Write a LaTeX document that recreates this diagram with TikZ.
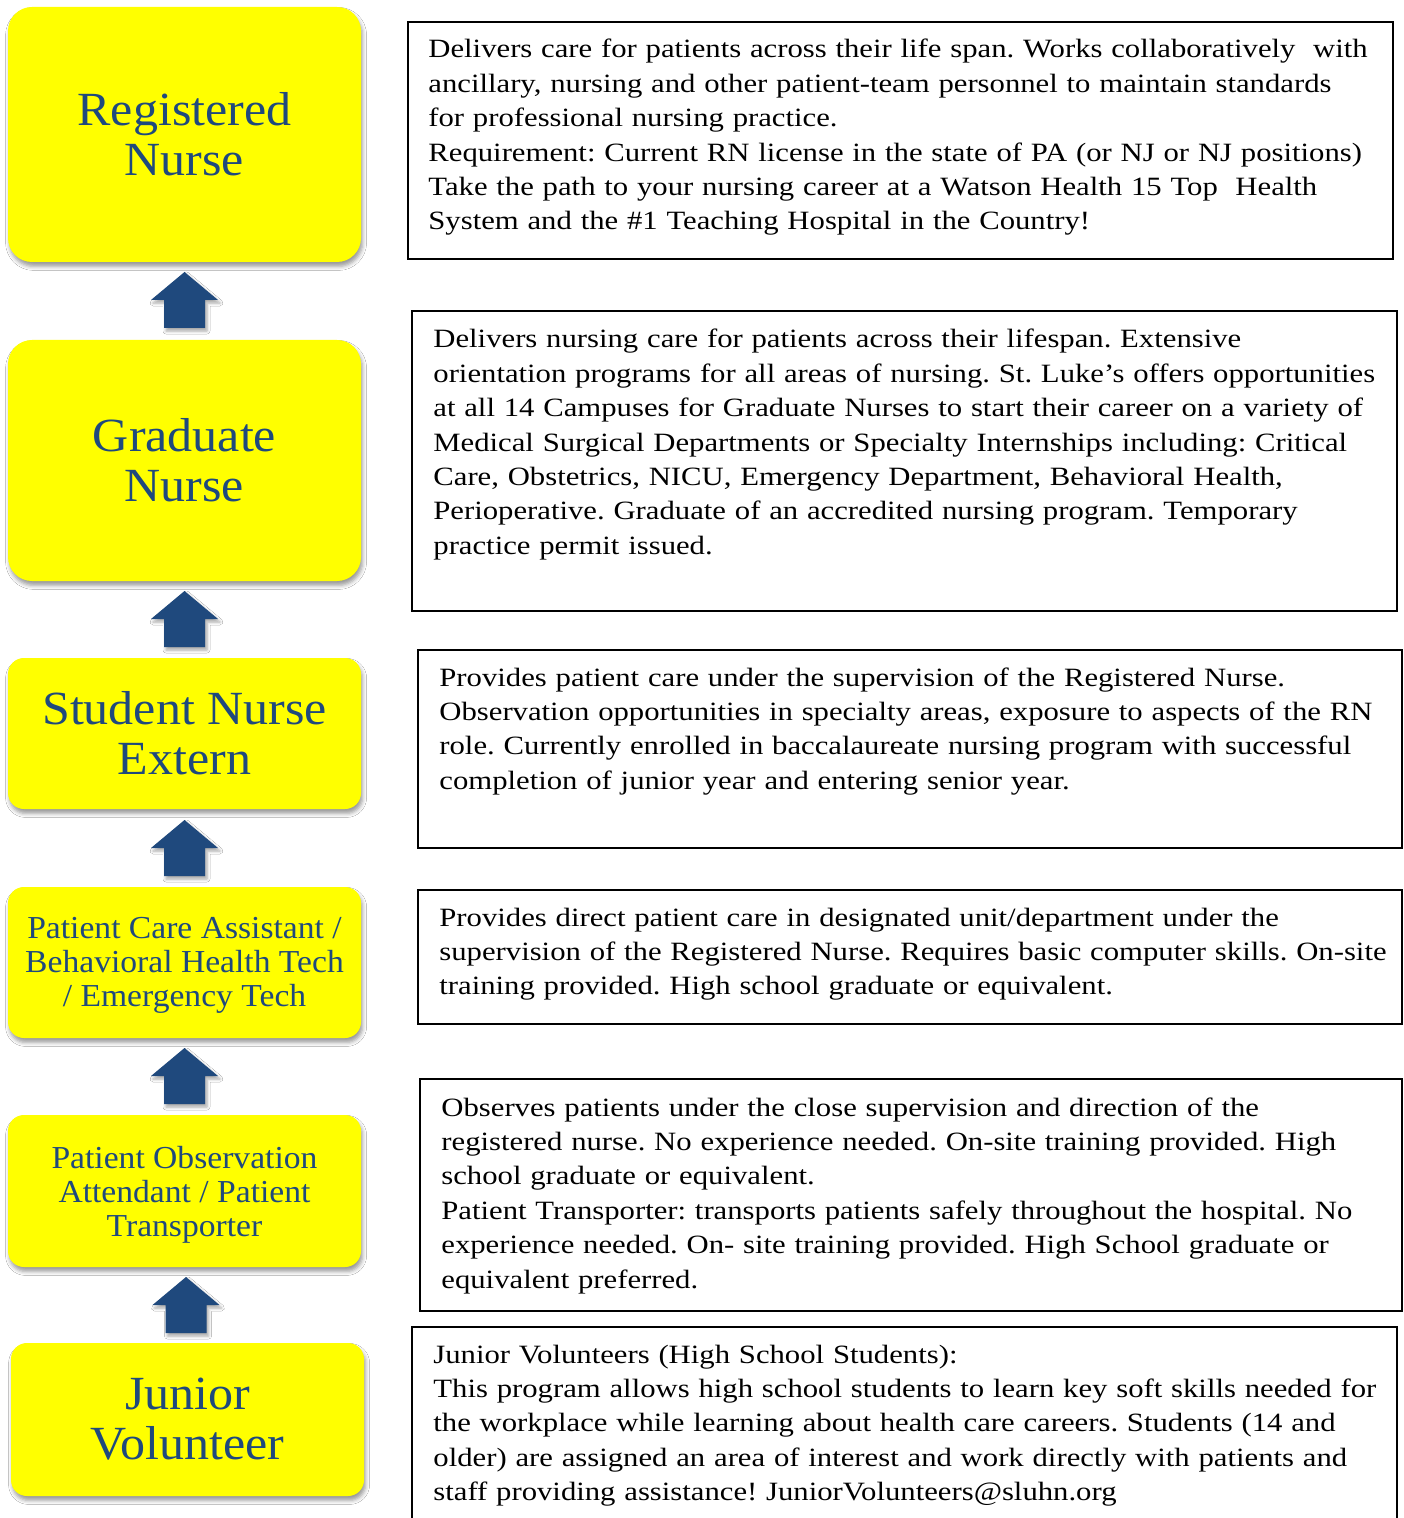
\documentclass[tikz,border=0pt]{standalone}
\usepackage{fontspec}
\setmainfont[FakeStretch=1.05]{Liberation Serif}
\newfontfamily\bodyfont[FakeStretch=1.163]{Liberation Serif}
\frenchspacing
\usetikzlibrary{shadows.blur}
\definecolor{navy}{HTML}{1F497D}
\definecolor{yel}{HTML}{FFFF00}
\tikzset{
  ybox/.style={fill=yel, draw=none, text=navy, align=center, inner sep=0pt,
    blur shadow={shadow xshift=0.8pt, shadow yshift=-2.2pt, shadow blur radius=2pt, shadow opacity=40}},
  bigtxt/.style={font=\fontsize{23.8}{25}\selectfont},
  midtxt/.style={font=\fontsize{16}{17}\selectfont},
  dbox/.style={draw=black, line width=1pt, fill=none, inner sep=0pt},
  dtext/.style={anchor=base west, inner sep=0pt, text width=520pt, align=left,
    font=\bodyfont\fontsize{13.2}{17.2}\selectfont},
  uparr/.style={fill=navy, draw=none,
    blur shadow={shadow xshift=1pt, shadow yshift=-1.5pt, shadow blur radius=1.5pt, shadow opacity=35}}
}
\newcommand{\blockarrow}[2]{% tip x, tip y
  \path[uparr] (#1,#2) -- ++(33.5,28) -- ++(-13,0) -- ++(0,28) -- ++(-41,0) -- ++(0,-28) -- ++(-13,0) -- cycle;}
\begin{document}
\begin{tikzpicture}[x=0.5pt,y=-0.5pt]
\useasboundingbox[fill=white] (0,0) rectangle (1403,1518);

% left boxes
\node[ybox, bigtxt, minimum width=176.5pt, minimum height=127.5pt, rounded corners=12pt] (rn) at (184.5,134.5) {Registered\\Nurse};
\node[ybox, bigtxt, minimum width=176.5pt, minimum height=120.5pt, rounded corners=12pt] (gn) at (184.5,460.5) {Graduate\\Nurse};
\node[ybox, bigtxt, minimum width=176.5pt, minimum height=75.5pt, rounded corners=8pt] (sn) at (184.5,733.5) {Student Nurse\\Extern};
\node[ybox, minimum width=176.5pt, minimum height=75.5pt, rounded corners=8pt] (pca) at (184.5,962.5) {};
\node[text=navy, midtxt, align=center, inner sep=0pt] (pcat) at (184.5,965.5) {Patient Care Assistant /\\Behavioral Health Tech\\/ Emergency Tech};
\node[ybox, minimum width=176.5pt, minimum height=76pt, rounded corners=8pt] (poa) at (184.5,1191) {};
\node[text=navy, midtxt, align=center, inner sep=0pt] (poat) at (184.5,1194.5) {Patient Observation\\Attendant / Patient\\Transporter};
\node[ybox, bigtxt, minimum width=176.5pt, minimum height=76.5pt, rounded corners=8pt] (jv) at (187.5,1419.5) {Junior\\Volunteer};

% arrows
\blockarrow{184.5}{272}
\blockarrow{184.5}{591}
\blockarrow{184.5}{820}
\blockarrow{184.5}{1048}
\blockarrow{186}{1277}

% description boxes
\node[dbox, minimum width=492.5pt, minimum height=118.5pt] (d1) at (900.5,140.5) {};
\node[dbox, minimum width=492.5pt, minimum height=150pt] (d2) at (904.5,461) {};
\node[dbox, minimum width=492pt, minimum height=99pt] (d3) at (910,749) {};
\node[dbox, minimum width=492pt, minimum height=67pt] (d4) at (910,957) {};
\node[dbox, minimum width=491pt, minimum height=116pt] (d5) at (911,1195) {};
\node[dbox, minimum width=492.5pt, minimum height=110pt] (d6) at (904.5,1437) {};

\node[dtext] (t1) at (428,58) {Delivers care for patients across their life span. Works collaboratively\ \ with\\
ancillary, nursing and other patient-team personnel to maintain standards\\
for professional nursing practice.\\
Requirement: Current RN license in the state of PA (or NJ or NJ positions)\\
Take the path to your nursing career at a Watson Health 15 Top\ \ Health\\
System and the \#1 Teaching Hospital in the Country!};

\node[dtext] (t2) at (433,348) {Delivers nursing care for patients across their lifespan. Extensive\\
orientation programs for all areas of nursing. St. Luke’s offers opportunities\\
at all 14 Campuses for Graduate Nurses to start their career on a variety of\\
Medical Surgical Departments or Specialty Internships including: Critical\\
Care, Obstetrics, NICU, Emergency Department, Behavioral Health,\\
Perioperative. Graduate of an accredited nursing program. Temporary\\
practice permit issued.};

\node[dtext] (t3) at (439,686) {Provides patient care under the supervision of the Registered Nurse.\\
Observation opportunities in specialty areas, exposure to aspects of the RN\\
role. Currently enrolled in baccalaureate nursing program with successful\\
completion of junior year and entering senior year.};

\node[dtext] (t4) at (439,926) {Provides direct patient care in designated unit/department under the\\
supervision of the Registered Nurse. Requires basic computer skills. On-site\\
training provided. High school graduate or equivalent.};

\node[dtext] (t5) at (441,1116) {Observes patients under the close supervision and direction of the\\
registered nurse. No experience needed. On-site training provided. High\\
school graduate or equivalent.\\
Patient Transporter: transports patients safely throughout the hospital. No\\
experience needed. On- site training provided. High School graduate or\\
equivalent preferred.};

\node[dtext] (t6) at (433,1363) {Junior Volunteers (High School Students):\\
This program allows high school students to learn key soft skills needed for\\
the workplace while learning about health care careers. Students (14 and\\
older) are assigned an area of interest and work directly with patients and\\
staff providing assistance! JuniorVolunteers@sluhn.org};
\end{tikzpicture}
\end{document}
